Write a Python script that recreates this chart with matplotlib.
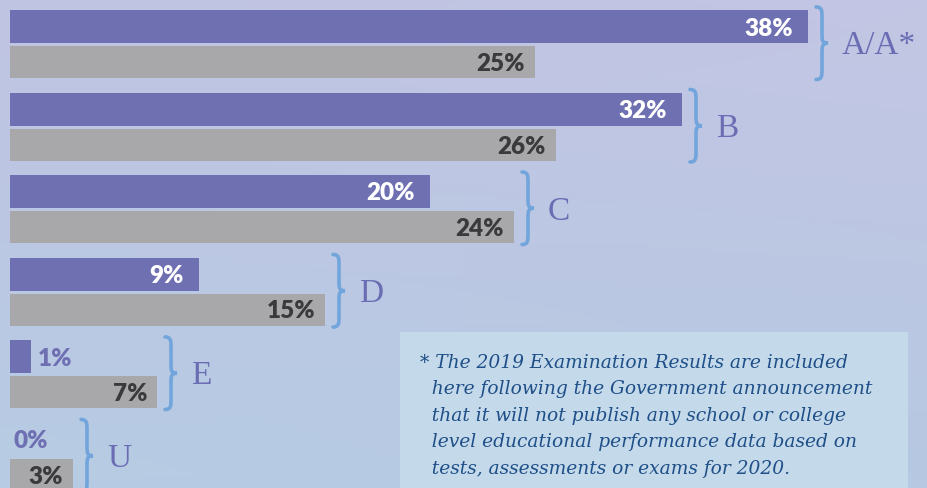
import numpy as np
import matplotlib.pyplot as plt
from matplotlib.path import Path
from matplotlib.patches import PathPatch, Rectangle

# Exam results by grade: 2019 (purple) vs national (grey)
grades = ['A/A*', 'B', 'C', 'D', 'E', 'U']
school = [38, 32, 20, 9, 1, 0]
national = [25, 26, 24, 15, 7, 3]
note = ("* The 2019 Examination Results are included\n"
        "  here following the Government announcement\n"
        "  that it will not publish any school or college\n"
        "  level educational performance data based on\n"
        "  tests, assessments or exams for 2020.")

PURPLE = '#6f70b2'
GREY = '#a8a8aa'
BRACE = '#72a5dc'
LETTER = '#6b6db4'

W, H = 927, 489
PX = 21.0          # pixels per percent
X0 = 10            # pixel where 0% sits
fig = plt.figure(figsize=(W / 100, H / 100), dpi=100)

# background gradient
bg = fig.add_axes([0, 0, 1, 1])
tl = np.array([191, 196, 226]) / 255
tr = np.array([195, 198, 228]) / 255
bl = np.array([183, 204, 228]) / 255
br = np.array([182, 200, 226]) / 255
u = np.linspace(0, 1, 200)[None, :, None]
v = np.linspace(0, 1, 120)[:, None, None]
grad = (1 - v) * ((1 - u) * tl + u * tr) + v * ((1 - u) * bl + u * br)
bg.imshow(grad, extent=[0, 1, 0, 1], aspect='auto')
bg.axis('off')

ax = fig.add_axes([0, 0, 1, 1])
ax.patch.set_alpha(0)
ax.set_xlim(-X0 / PX, (W - X0) / PX)
ax.set_ylim(H, 0)
ax.axis('off')

step = 82.5
bh = 33
yp = [27.5 + i * step for i in range(len(grades))]
yg = [y + 35.5 for y in yp]

ax.barh(yp, school, height=bh, color=PURPLE, zorder=2)
ax.barh(yg, national, height=bh - 1, color=GREY, zorder=2)

lab = dict(fontsize=17.5, fontweight='heavy', family='Lato', zorder=3)
for y, v in zip(yp, school):
    if v >= 3:
        ax.text(v - 15 / PX, y + 1, f'{v}%', ha='right', va='center',
                color='white', **lab)
    else:
        ax.text(v + (7 if v else 3) / PX, y + 1, f'{v}%', ha='left', va='center',
                color=PURPLE, **lab)
for y, v in zip(yg, national):
    ax.text(v - 10 / PX, y + 1, f'{v}%', ha='right', va='center',
            color='#3a3a3c', **lab)


def brace(x, top, bot, w=12 / PX):
    mid = (top + bot) / 2
    h = w / 2
    r = 10
    verts = [(x, top), (x + h, top), (x + h, top + r * 0.4), (x + h, top + r),
             (x + h, mid - r),
             (x + h, mid - r * 0.3), (x + h, mid), (x + w, mid),
             (x + h, mid), (x + h, mid + r * 0.3), (x + h, mid + r),
             (x + h, bot - r),
             (x + h, bot - r * 0.4), (x + h, bot), (x, bot)]
    codes = [Path.MOVETO, Path.CURVE4, Path.CURVE4, Path.CURVE4,
             Path.LINETO,
             Path.CURVE4, Path.CURVE4, Path.CURVE4,
             Path.CURVE4, Path.CURVE4, Path.CURVE4,
             Path.LINETO,
             Path.CURVE4, Path.CURVE4, Path.CURVE4]
    ax.add_patch(PathPatch(Path(verts, codes), fill=False, edgecolor=BRACE,
                           lw=2.6, capstyle='round', zorder=3))


for i, g in enumerate(grades):
    right = max(school[i], national[i])
    if school[i] < 3:
        right = max(right, school[i] + 36 / PX)
    bx = right + 8 / PX
    top = yp[i] - bh / 2 - 3
    bot = yg[i] + bh / 2 + 1
    brace(bx, top, bot)
    ax.text(bx + 26 / PX, (top + bot) / 2 + 2, g, ha='left', va='center',
            color=LETTER, fontsize=24, family='Liberation Serif', zorder=3)

# note box
fig.patches.append(Rectangle((400 / W, 0), 508 / W, 156 / H, transform=fig.transFigure,
                             facecolor='#c4d9e9', edgecolor='none', zorder=1))
fig.text(420 / W, 1 - 354 / H, note, ha='left', va='top', color='#1f4f88',
         fontsize=13.4, style='italic', family='DejaVu Serif', linespacing=1.6)

fig.savefig('out.png', dpi=100)
